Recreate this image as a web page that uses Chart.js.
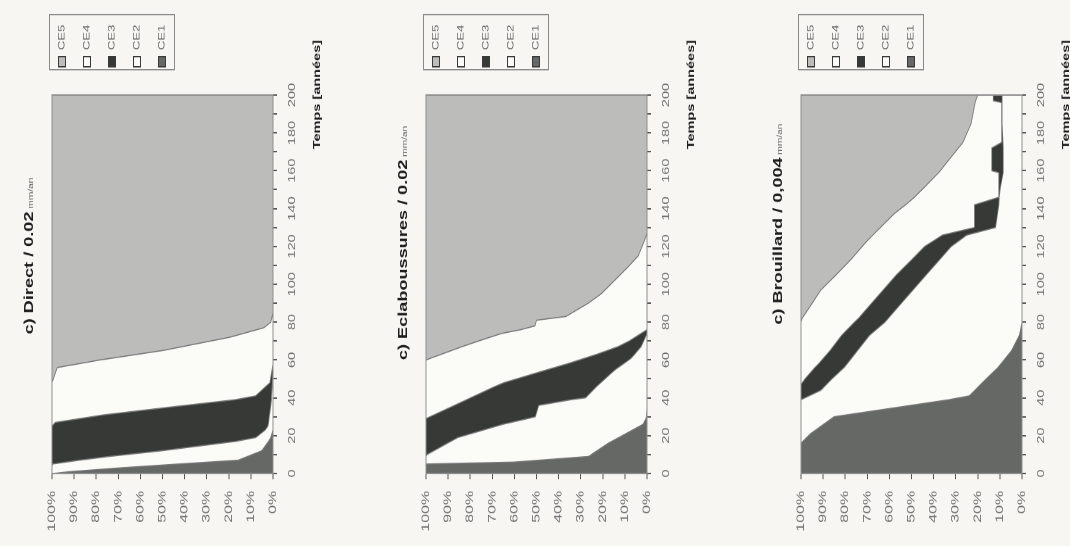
<!DOCTYPE html>
<html>
<head>
<meta charset="utf-8">
<script src="https://cdn.jsdelivr.net/npm/chart.js@4.4.1/dist/chart.umd.min.js"></script>
<style>
  html, body { margin: 0; padding: 0; background: #f7f6f3; overflow: hidden; width: 1070px; height: 546px; }
  /* the three charts are drawn upright, then the whole sheet is turned a quarter turn */
  #page { position: absolute; left: 0; top: 0; width: 377px; height: 1075px;
          transform-origin: 0 0; transform: translate(0, 546px) rotate(-90deg) scale(1.45, 1); }
  .panel { position: absolute; left: 0; width: 377px; height: 326px; }
</style>
</head>
<body>
<div id="page">
  <div class="panel" style="top:0px"><canvas id="chart1" width="377" height="326"></canvas></div>
  <div class="panel" style="top:374px"><canvas id="chart2" width="377" height="326"></canvas></div>
  <div class="panel" style="top:749px"><canvas id="chart3" width="377" height="326"></canvas></div>
</div>
<script>
const seriesNames = ['CE1', 'CE2', 'CE3', 'CE4', 'CE5'];
const seriesColors = ['#666866', '#fbfbf8', '#363936', '#fbfbf8', '#bcbcba'];

// Direct / 0.02 mm/an  (parts en %, cumul = 100)
const years1 = [0, 1, 3, 5, 7, 9, 12, 17, 19, 23, 25, 27, 31, 35, 39, 41, 48, 56, 58, 60, 65, 72, 77, 80, 85, 100, 200];
const direct1 = [99.5, 91.6, 68.7, 42.8, 15.8, 11.5, 5.1, 2.0, 1.0, 0, 0, 0, 0, 0, 0, 0, 0, 0, 0, 0, 0, 0, 0, 0, 0, 0, 0];
const direct2 = [0.5, 8.4, 31.3, 57.0, 72.0, 62.6, 45.3, 14.7, 6.8, 3.5, 2.3, 2.0, 1.6, 1.1, 0.7, 0.7, 0.3, 0, 0, 0, 0, 0, 0, 0, 0, 0, 0];
const direct3 = [0, 0, 0, 0.2, 12.2, 25.9, 49.6, 83.3, 92.2, 96.5, 97.7, 96.5, 74.9, 46.1, 16.4, 7.2, 1.1, 0.3, 0, 0, 0, 0, 0, 0, 0, 0, 0];
const direct4 = [0, 0, 0, 0, 0, 0, 0, 0, 0, 0, 0, 1.5, 23.5, 52.8, 82.9, 92.1, 98.6, 97.3, 88, 78.3, 49.9, 19.6, 4.2, 1.0, 0, 0, 0];
const direct5 = [0, 0, 0, 0, 0, 0, 0, 0, 0, 0, 0, 0, 0, 0, 0, 0, 0, 2.4, 12, 21.7, 50.1, 80.4, 95.8, 99, 100, 100, 100];

// Eclaboussures / 0.02 mm/an
const years2 = [0, 5, 6, 9, 10, 16, 19, 26, 29, 30, 36, 39, 40, 46, 48, 53, 55, 58, 60, 61, 63, 67, 70, 74, 76, 78, 81, 83, 90, 95, 102, 109, 115, 123, 127, 200];
const splash1 = [100, 100, 60.3, 26.4, 25.2, 17.5, 12.8, 1.8, 0.5, 0.3, 0, 0, 0, 0, 0, 0, 0, 0, 0, 0, 0, 0, 0, 0, 0, 0, 0, 0, 0, 0, 0, 0, 0, 0, 0, 0];
const splash2 = [0, 0, 39.7, 73.6, 74.3, 72.8, 72.8, 63.4, 53.5, 50.2, 49.0, 34.4, 27.8, 22.8, 20.9, 16.2, 14.2, 10.6, 8.2, 7.1, 5.6, 2.7, 1.5, 0, 0, 0, 0, 0, 0, 0, 0, 0, 0, 0, 0, 0];
const splash3 = [0, 0, 0, 0, 0.5, 9.7, 14.4, 34.8, 46, 47.7, 38.1, 47.2, 52.0, 46.0, 43.8, 34.3, 30.5, 25.4, 22.4, 20.9, 17.1, 10.5, 6.6, 2.7, 0, 0, 0, 0, 0, 0, 0, 0, 0, 0, 0, 0];
const splash4 = [0, 0, 0, 0, 0, 0, 0, 0, 0, 1.8, 12.9, 18.4, 20.2, 31.2, 35.3, 49.5, 55.3, 64.0, 69.4, 69.7, 70.4, 70.6, 68.2, 63.1, 57.2, 50.7, 50, 36.7, 26.6, 20.7, 14.7, 8.7, 4.0, 1.2, 0, 0];
const splash5 = [0, 0, 0, 0, 0, 0, 0, 0, 0, 0, 0, 0, 0, 0, 0, 0, 0, 0, 0, 2.3, 6.9, 16.2, 23.7, 34.2, 42.8, 49.3, 50, 63.3, 73.4, 79.3, 85.3, 91.3, 96, 98.8, 100, 100];

// Brouillard / 0,004 mm/an
const years3 = [0, 16, 21, 30, 35, 39, 41, 44, 47, 50, 56, 58, 65, 73, 80, 82, 89, 97, 105, 113, 120, 123, 126, 130, 137, 142, 146, 151, 159, 160, 172, 175, 185, 196, 197, 200];
const fog1 = [100, 100, 95.7, 85, 56.1, 33.0, 23.9, 21.3, 18.8, 16.2, 10.9, 9.5, 4.7, 1.2, 0, 0, 0, 0, 0, 0, 0, 0, 0, 0, 0, 0, 0, 0, 0, 0, 0, 0, 0, 0, 0, 0];
const fog2 = [0, 0, 4.3, 15, 43.9, 67.0, 72.5, 69.7, 69.7, 69.8, 69.6, 69.6, 69.7, 67.8, 62, 60.5, 55.3, 49.3, 43.3, 37.3, 32, 28.5, 25, 12, 11.1, 10.5, 10.3, 9.8, 8.5, 8.5, 8.5, 8.6, 9, 9, 9, 9];
const fog3 = [0, 0, 0, 0, 0, 0, 3.6, 9, 11.5, 12.2, 13.2, 12.9, 12.4, 12.6, 13.8, 13.5, 13.5, 13.5, 13.5, 12.6, 12, 11.5, 11, 9.5, 10.4, 11, 0.2, 0.7, 2, 5.2, 5.2, 0.6, 0.2, 0.2, 4, 4];
const fog4 = [0, 0, 0, 0, 0, 0, 0, 0, 0, 1.8, 6.3, 8, 13.2, 18.4, 24.2, 25.5, 26.7, 28.2, 27.3, 27.6, 28.3, 30, 31.5, 42.6, 36.6, 31.2, 38.2, 33.9, 27.2, 23.3, 15.1, 17.5, 13.8, 12, 8, 7];
const fog5 = [0, 0, 0, 0, 0, 0, 0, 0, 0, 0, 0, 0, 0, 0, 0, 0.5, 4.5, 9, 15.9, 22.5, 27.7, 30, 32.5, 35.9, 41.9, 47.3, 51.3, 55.6, 62.3, 63, 71.2, 73.3, 77, 78.8, 79, 80];

const FONT = '"Liberation Sans", Arial, sans-serif';

// titre, légende encadrée et titre d'axe, dessinés autour de la zone du graphique
const decor = {
  id: 'decor',
  afterDatasetsDraw(chart) {
    const { ctx, chartArea: a } = chart;
    ctx.save();
    ctx.strokeStyle = '#8e8e8e';
    ctx.lineWidth = 1;
    ctx.strokeRect(a.left, a.top, a.right - a.left, a.bottom - a.top);
    ctx.restore();
  },
  afterDraw(chart, args, opts) {
    const ctx = chart.ctx;
    ctx.save();
    // titre + unité en petit
    ctx.textBaseline = 'alphabetic';
    ctx.font = 'bold 12.5px ' + FONT;
    const w1 = ctx.measureText(opts.title).width;
    ctx.font = '7px ' + FONT;
    const w2 = ctx.measureText(' mm/an').width;
    const x0 = opts.titleCenter - (w1 + w2) / 2;
    ctx.fillStyle = '#1e1e1e';
    ctx.font = 'bold 12.5px ' + FONT;
    ctx.fillText(opts.title, x0, 33);
    ctx.fillStyle = '#666';
    ctx.font = '7px ' + FONT;
    ctx.fillText(' mm/an', x0 + w1, 33);

    // titre de l'axe des temps
    ctx.fillStyle = '#1e1e1e';
    ctx.font = 'bold 10px ' + FONT;
    ctx.textAlign = 'right';
    ctx.fillText('Temps [années]', 349, 320);

    // légende
    ctx.textAlign = 'left';
    ctx.strokeStyle = '#8a8a8a';
    ctx.lineWidth = 1;
    ctx.strokeRect(328.5, 49.5, 38, 125);
    ctx.font = '9px ' + FONT;
    ctx.textBaseline = 'middle';
    for (let i = 0; i < 5; i++) {
      const k = 4 - i;  // CE5 en haut
      const cy = 62 + 25 * i;
      ctx.fillStyle = seriesColors[k];
      ctx.fillRect(330.5, cy - 3.5, 7, 7);
      ctx.strokeStyle = '#3a3a3a';
      ctx.strokeRect(330.5, cy - 3.5, 7, 7);
      ctx.fillStyle = '#6a6a6a';
      ctx.fillText(seriesNames[k], 342, cy);
    }
    ctx.restore();
  }
};

function createChart(chartId, years, series, title, titleCenter) {
  const ctx = document.getElementById(chartId).getContext('2d');
  new Chart(ctx, {
    type: 'line',
    data: {
      datasets: series.map((vals, i) => ({
        label: seriesNames[i],
        data: years.map((t, j) => ({ x: t, y: vals[j] })),
        backgroundColor: seriesColors[i],
        borderColor: '#777',
        borderWidth: 0.8,
        fill: i === 0 ? 'origin' : '-1',
        pointRadius: 0,
        tension: 0
      }))
    },
    options: {
      responsive: false,
      devicePixelRatio: 2,
      animation: false,
      layout: { padding: { left: 0, right: 66, top: 52, bottom: 0 } },
      plugins: {
        legend: { display: false },
        tooltip: { enabled: false },
        decor: { title: title, titleCenter: titleCenter }
      },
      scales: {
        x: {
          type: 'linear',
          min: 0,
          max: 200,
          afterFit: s => { s.height = 53; },
          ticks: {
            stepSize: 10,
            autoSkip: false,
            maxRotation: 0,
            padding: 9,
            color: '#707070',
            font: { size: 10, family: FONT },
            callback: v => (v % 20 === 0 ? String(v) : '')
          },
          grid: { drawOnChartArea: false, tickLength: 4, color: '#555' },
          border: { color: '#444' }
        },
        y: {
          stacked: true,
          min: 0,
          max: 100,
          afterFit: s => { s.width = 50; },
          ticks: {
            stepSize: 10,
            padding: 8,
            color: '#707070',
            font: { size: 11, family: FONT },
            callback: v => v + '%'
          },
          grid: { drawOnChartArea: false, tickLength: 4, color: '#555' },
          border: { color: '#444' }
        }
      }
    },
    plugins: [decor]
  });
}

createChart('chart1', years1, [direct1, direct2, direct3, direct4, direct5], 'c) Direct / 0.02', 200);
createChart('chart2', years2, [splash1, splash2, splash3, splash4, splash5], 'c) Eclaboussures / 0.02', 209);
createChart('chart3', years3, [fog1, fog2, fog3, fog4, fog5], 'c) Brouillard / 0,004', 222);
</script>
</body>
</html>
